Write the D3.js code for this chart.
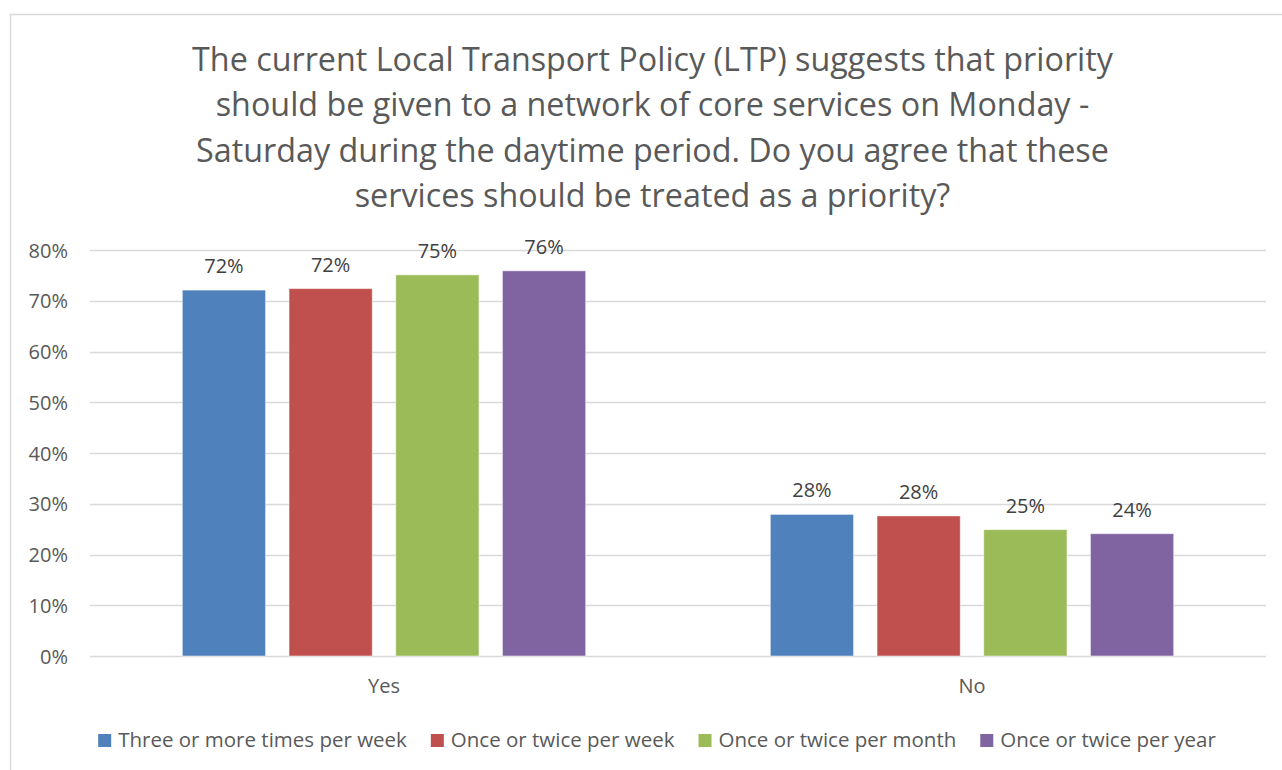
<!DOCTYPE html>
<html><head><meta charset="utf-8">
<script src="https://cdn.jsdelivr.net/npm/d3@7"></script>
<style>body{margin:0;background:#fff}svg{display:block}text{font-family:"Open Sans",sans-serif}</style>
</head><body>
<svg id="c" width="1282" height="770"></svg>
<script>
const titleLines = ["The current Local Transport Policy (LTP) suggests that priority","should be given to a network of core services on Monday -","Saturday during the daytime period. Do you agree that these","services should be treated as a priority?"];
const categories = ["Yes","No"];
const seriesNames = ["Three or more times per week","Once or twice per week","Once or twice per month","Once or twice per year"];
const threeOrMore = [0.721, 0.279];
const onceTwiceWeek = [0.724, 0.276];
const onceTwiceMonth = [0.751, 0.249];
const onceTwiceYear = [0.759, 0.241];
const valueLabels = [["72%","28%"],["72%","28%"],["75%","25%"],["76%","24%"]];
const yTicks = [0,0.1,0.2,0.3,0.4,0.5,0.6,0.7,0.8];
const colors = ["#4f81bd","#c0504d","#9bbb59","#8064a2"];

const seriesValues = [threeOrMore, onceTwiceWeek, onceTwiceMonth, onceTwiceYear];
const svg = d3.select("#c");
const txt = "#595959";

svg.append("rect").attr("x",10.5).attr("y",14.5).attr("width",1290).attr("height",800)
  .attr("fill","none").attr("stroke","#d9d9d9").attr("stroke-width",1.5);

// title
svg.append("g").selectAll("text").data(titleLines).join("text")
  .attr("x",652.5).attr("y",(d,i)=>71+i*45.3).attr("text-anchor","middle")
  .attr("font-size",32.3).attr("fill",txt).text(d=>d);

const pLeft=90,pRight=1266,pTop=250,pBottom=656;
const y = d3.scaleLinear().domain([0,0.8]).range([pBottom,pTop]);
const x0 = d3.scaleBand().domain(categories).range([pLeft,pRight]).paddingInner(0.314).paddingOuter(0.157);
const x1 = d3.scaleBand().domain(d3.range(seriesNames.length)).range([0,x0.bandwidth()]).paddingInner(0.22);

// grid
svg.append("g").selectAll("line").data(yTicks).join("line")
  .attr("x1",pLeft).attr("x2",pRight).attr("y1",d=>Math.round(y(d))+0.5).attr("y2",d=>Math.round(y(d))+0.5)
  .attr("stroke","#d9d9d9").attr("stroke-width",1.3);

// y axis labels
const yAxis = d3.axisLeft(y).tickValues(yTicks).tickFormat(d3.format(".0%")).tickSize(0).tickPadding(0);
const ya = svg.append("g").attr("transform",`translate(68,0)`).call(yAxis);
ya.select(".domain").remove();
ya.selectAll("text").attr("font-size",20).attr("fill",txt).attr("font-family","Open Sans").attr("dy","0.35em");

// bars
const groups = svg.append("g").selectAll("g").data(seriesValues).join("g").attr("fill",(d,i)=>colors[i]);
groups.selectAll("rect").data((d,i)=>d.map((v,j)=>({v,i,c:categories[j]}))).join("rect")
  .attr("x",d=>x0(d.c)+x1(d.i)).attr("width",x1.bandwidth())
  .attr("y",d=>y(d.v)).attr("height",d=>y(0)-y(d.v))
  .attr("stroke","#ffffff").attr("stroke-opacity",0.5).attr("stroke-width",1);
// value labels
svg.append("g").selectAll("text").data(seriesValues.flatMap((s,i)=>s.map((v,j)=>({v,i,j})))).join("text")
  .attr("x",d=>x0(categories[d.j])+x1(d.i)+x1.bandwidth()/2).attr("y",d=>y(d.v)-17)
  .attr("text-anchor","middle").attr("font-size",20).attr("fill","#404040").text(d=>valueLabels[d.i][d.j]);

// x axis labels
const xAxis = d3.axisBottom(x0).tickSize(0).tickPadding(0);
const xa = svg.append("g").attr("transform",`translate(0,${pBottom})`).call(xAxis);
xa.select(".domain").remove();
xa.selectAll("text").attr("font-size",20).attr("fill",txt).attr("font-family","Open Sans").attr("dy",0).attr("y",37);

// legend
const leg = svg.append("g");
const items = leg.selectAll("g").data(seriesNames).join("g");
items.append("rect").attr("width",13).attr("height",13).attr("y",-13).attr("fill",(d,i)=>colors[i]);
items.append("text").attr("x",20).attr("font-size",20.5).attr("fill",txt).text(d=>d);
const gap=24;
let widths=[];
items.each(function(){ widths.push(this.querySelector("text").getComputedTextLength()); });
const total = d3.sum(widths)+20*widths.length+gap*(widths.length-1);
let xs = 657 - total/2;
items.each(function(d,i){
  d3.select(this).attr("transform",`translate(${xs},747)`);
  xs += 20 + widths[i] + gap;
});
</script>
</body></html>
